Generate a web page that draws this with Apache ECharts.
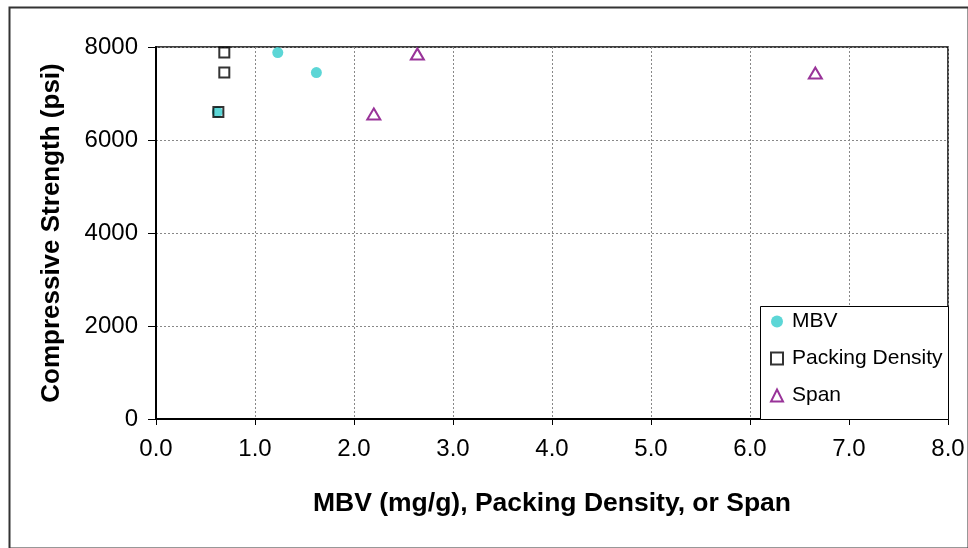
<!DOCTYPE html>
<html>
<head>
<meta charset="utf-8">
<script src="https://cdn.jsdelivr.net/npm/echarts@6/dist/echarts.min.js"></script>
<style>html,body{margin:0;padding:0;background:#fff}#c{width:968px;height:548px}</style>
</head>
<body>
<div id="c"></div>
<script>
var seriesNames = ['MBV', 'Packing Density', 'Span'];
var mbvX = [0.62, 1.23, 1.62];
var mbvY = [6600, 7880, 7450];
var packX = [0.63, 0.69, 0.69];
var packY = [6600, 7880, 7450];
var spanX = [2.2, 2.64, 6.66];
var spanY = [6560, 7850, 7440];
var xTicks = [0, 1, 2, 3, 4, 5, 6, 7, 8];
var yTicks = [0, 2000, 4000, 6000, 8000];
var xTitle = 'MBV (mg/g), Packing Density, or Span';
var yTitle = 'Compressive Strength (psi)';

function pairs(xs, ys) { return xs.map(function (x, i) { return [x, ys[i]]; }); }

var FONT = "'Liberation Sans', Arial, sans-serif";
var chart = echarts.init(document.getElementById('c'), null, { renderer: 'canvas' });
chart.setOption({
  animation: false,
  backgroundColor: '#fff',
  grid: { left: 156, top: 47, right: 20, bottom: 129, show: true, borderColor: '#000', borderWidth: 1.5, backgroundColor: 'transparent' },
  xAxis: {
    type: 'value', min: xTicks[0], max: xTicks[xTicks.length - 1], interval: 1,
    name: xTitle, nameLocation: 'middle', nameGap: 71,
    nameTextStyle: { fontFamily: FONT, fontSize: 26.5, fontWeight: 'bold', color: '#000' },
    axisLine: { show: true, onZero: false, lineStyle: { color: '#000', width: 2 } },
    axisTick: { show: true, length: 6, lineStyle: { color: '#000', width: 1 } },
    axisLabel: { margin: 18, fontFamily: FONT, fontSize: 24, color: '#000', formatter: function (v) { return v.toFixed(1); } },
    splitLine: { show: true, lineStyle: { color: '#888', width: 1, type: [2, 2] } }
  },
  yAxis: {
    type: 'value', min: yTicks[0], max: yTicks[yTicks.length - 1], interval: 2000,
    name: yTitle, nameLocation: 'middle', nameGap: 91,
    nameTextStyle: { fontFamily: FONT, fontSize: 26, fontWeight: 'bold', color: '#000' },
    axisLine: { show: true, onZero: false, lineStyle: { color: '#000', width: 2 } },
    axisTick: { show: true, length: 8, lineStyle: { color: '#000', width: 1 } },
    axisLabel: { margin: 18, fontFamily: FONT, fontSize: 24, color: '#000', formatter: function (v) { return String(v); } },
    splitLine: { show: true, lineStyle: { color: '#888', width: 1, type: [2, 2] } }
  },
  legend: {
    orient: 'vertical', left: 770, top: 311, padding: 0, itemGap: 16,
    itemWidth: 12, itemHeight: 12, z: 10,
    textStyle: { fontFamily: FONT, fontSize: 21, color: '#000', lineHeight: 21, padding: [0, 0, 0, 4] },
    data: [
      { name: seriesNames[0], icon: 'circle' },
      { name: seriesNames[1], icon: 'rect' },
      { name: seriesNames[2], icon: 'triangle' }
    ]
  },
  graphic: [
    { type: 'rect', left: 7, top: 5, z: 0, silent: true,
      shape: { width: 959, height: 541 }, style: { fill: 'none', stroke: '#333', lineWidth: 2 } },
    { type: 'rect', left: 760, top: 306, z: 9, silent: true,
      shape: { width: 188, height: 113 }, style: { fill: '#fff', stroke: '#000', lineWidth: 1 } }
  ],
  series: [
    { name: seriesNames[0], type: 'scatter', symbol: 'circle', symbolSize: 11, z: 2,
      itemStyle: { color: '#33CCCC' }, data: pairs(mbvX, mbvY) },
    { name: seriesNames[1], type: 'scatter', symbol: 'rect', symbolSize: 10, z: 3,
      itemStyle: { color: 'rgba(255,255,255,0)', borderColor: '#000', borderWidth: 2 }, data: pairs(packX, packY) },
    { name: seriesNames[2], type: 'scatter', symbol: 'triangle', symbolSize: [13, 11], z: 3,
      itemStyle: { color: 'rgba(255,255,255,0)', borderColor: '#800080', borderWidth: 2 }, data: pairs(spanX, spanY) }
  ]
});
</script>
</body>
</html>
